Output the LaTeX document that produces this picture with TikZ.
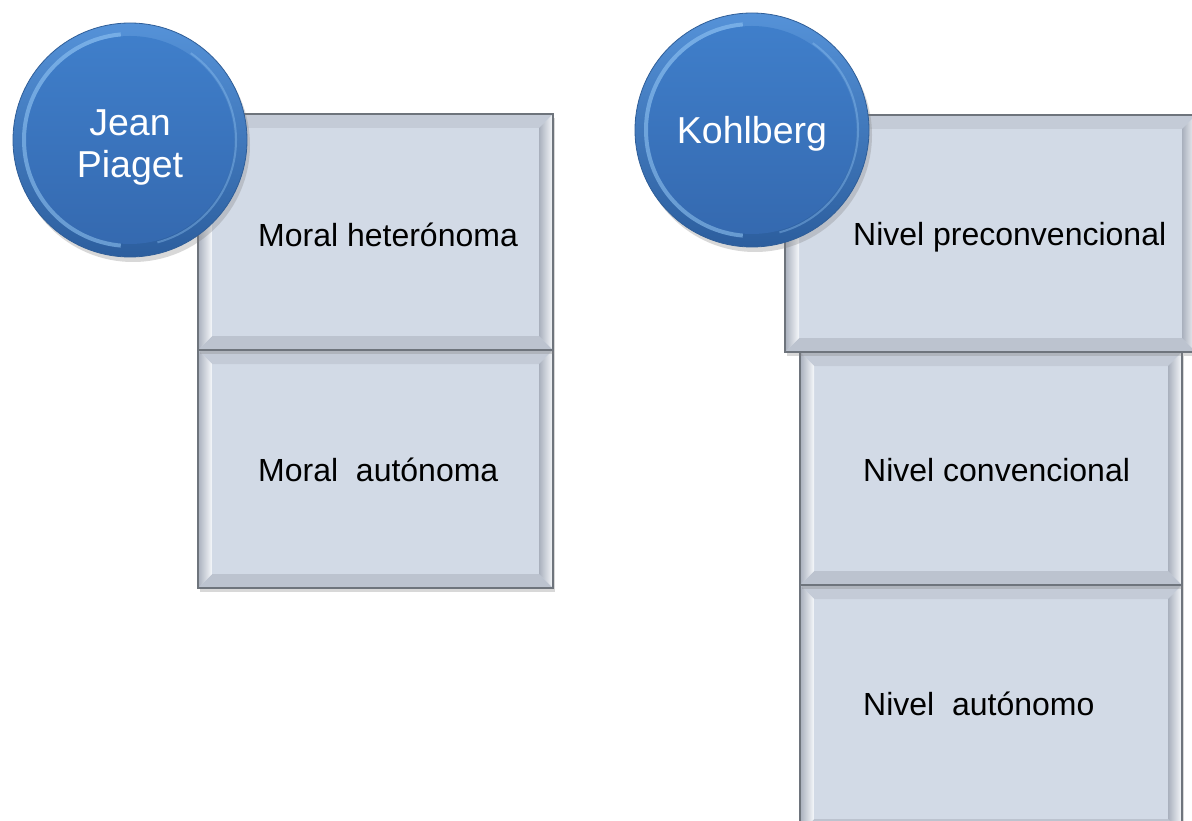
\documentclass[tikz,border=0pt]{standalone}
\usepackage{fontspec}
\setmainfont{Liberation Sans}
\usetikzlibrary{shadows}
\definecolor{boxfill}{HTML}{D2DAE6}
\definecolor{boxline}{HTML}{6E747C}
\definecolor{bevtopc}{HTML}{C4CBD7}
\definecolor{bevbotc}{HTML}{BCC3CF}
\definecolor{bevgray}{HTML}{A9B0BD}
\definecolor{bevlight}{HTML}{F6F8FB}
\definecolor{blueA}{HTML}{5592D8}
\definecolor{blueB}{HTML}{2C5E9E}
\definecolor{blueC}{HTML}{4080CC}
\definecolor{blueD}{HTML}{3468AE}
\definecolor{blueEdge}{HTML}{2F5E98}
\definecolor{rimc}{HTML}{8EC2F2}
\tikzset{
  bevelbox/.style={rectangle, draw=boxline, line width=1.3pt, fill=boxfill, inner sep=0pt,
    drop shadow={shadow xshift=2pt, shadow yshift=-4pt, opacity=0.3},
    path picture={
      \fill[bevtopc] (path picture bounding box.north west) -- (path picture bounding box.north east)
        -- ([xshift=-14pt,yshift=-14pt]path picture bounding box.north east)
        -- ([xshift=14pt,yshift=-14pt]path picture bounding box.north west) -- cycle;
      \fill[bevbotc] (path picture bounding box.south west) -- (path picture bounding box.south east)
        -- ([xshift=-14pt,yshift=14pt]path picture bounding box.south east)
        -- ([xshift=14pt,yshift=14pt]path picture bounding box.south west) -- cycle;
      \shade[left color=bevgray, right color=bevlight] (path picture bounding box.north west)
        -- ([xshift=14pt,yshift=-14pt]path picture bounding box.north west)
        -- ([xshift=14pt,yshift=14pt]path picture bounding box.south west)
        -- (path picture bounding box.south west) -- cycle;
      \shade[left color=bevgray, right color=bevlight] (path picture bounding box.north east)
        -- ([xshift=-14pt,yshift=-14pt]path picture bounding box.north east)
        -- ([xshift=-14pt,yshift=14pt]path picture bounding box.south east)
        -- (path picture bounding box.south east) -- cycle;
    }},
  bubble/.style={circle, minimum size=234pt, inner sep=0pt, top color=blueA, bottom color=blueB,
    draw=blueEdge, line width=0.8pt, text=white, align=center,
    font=\fontsize{37.5}{42}\selectfont,
    drop shadow={shadow xshift=3pt, shadow yshift=-5pt, opacity=0.3},
    path picture={
      \shade[top color=blueC, bottom color=blueD] (path picture bounding box.center) circle (104pt);
      \draw[rimc, line width=4pt, opacity=0.6] (path picture bounding box.center) ++(95:106pt) arc (95:265:106pt);
      \draw[rimc, line width=2pt, opacity=0.4] (path picture bounding box.center) ++(-75:106pt) arc (-75:55:106pt);
    }},
  boxtext/.style={anchor=base west, inner sep=0pt, font=\fontsize{32}{38}\selectfont, text=black}
}
\begin{document}
\begin{tikzpicture}[x=1pt,y=-1pt]
\useasboundingbox[fill=white] (0,0) rectangle (1192,821);
% Piaget column
\node[bevelbox, minimum width=355pt, minimum height=238pt] (pb2) at (375.5,469) {};
\node[bevelbox, minimum width=355pt, minimum height=236pt] (pb1) at (375.5,232) {};
\node[boxtext] (pt1) at (258,247) {Moral heterónoma};
\node[boxtext] (pt2) at (258,481) {Moral\ \ autónoma};
\node[bubble] (piaget) at (130,140) {\rule{0pt}{40pt}Jean\\Piaget};
% Kohlberg column
\node[bevelbox, minimum width=382pt, minimum height=248pt] (kb3) at (991,709) {};
\node[bevelbox, minimum width=382pt, minimum height=233pt] (kb2) at (991,468.5) {};
\node[bevelbox, minimum width=411pt, minimum height=237pt] (kb1) at (990.5,233.5) {};
\node[boxtext] (kt1) at (853,246) {Nivel preconvencional};
\node[boxtext] (kt2) at (863,481) {Nivel convencional};
\node[boxtext] (kt3) at (863,715) {Nivel\ \ autónomo};
\node[bubble] (kohlberg) at (752,130) {\rule{0pt}{34pt}Kohlberg};
\end{tikzpicture}
\end{document}
